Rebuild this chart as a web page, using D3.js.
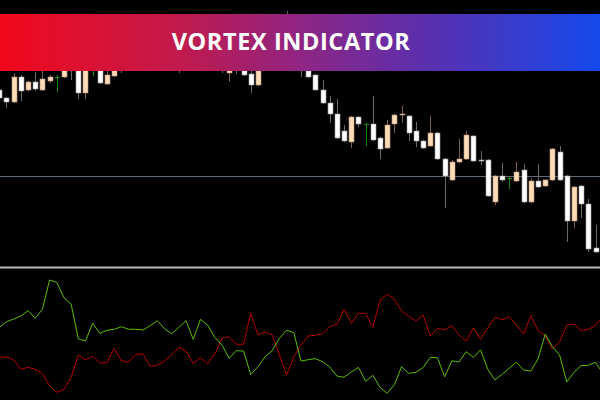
<!DOCTYPE html>
<html>
<head>
<meta charset="utf-8">
<script src="https://cdn.jsdelivr.net/npm/d3@7"></script>
<style>
  html, body { margin: 0; padding: 0; background: #000; }
  svg { display: block; }
</style>
</head>
<body>
<svg id="chart" width="600" height="400"></svg>
<script>
let title = "VORTEX INDICATOR";

// OHLC, one entry per bar
let opens = [1.0760,1.0752,1.0748,1.0773,1.0760,1.0768,1.0760,1.0769,1.0773,1.0773,
  1.0790,1.0785,1.0757,1.0784,1.0788,1.0766,1.0774,1.0795,1.0782,1.0798,
  1.0790,1.0806,1.0812,1.0795,1.0805,1.0794,1.0784,1.0804,1.0816,1.0804,
  1.0820,1.0806,1.0777,1.0790,1.0788,1.0776,1.0765,1.0786,1.0800,1.0792,
  1.0814,1.0828,1.0805,1.0790,1.0775,1.0760,1.0747,1.0736,1.0719,1.0708,
  1.0733,1.0726,1.0726,1.0712,1.0702,1.0726,1.0735,1.0734,1.0719,1.0709,
  1.0704,1.0717,1.0691,1.0670,1.0688,1.0691,1.0714,1.0690,1.0690,1.0648,
  1.0674,1.0672,1.0669,1.0680,1.0648,1.0669,1.0664,1.0670,1.0698,1.0674,
  1.0629,1.0664,1.0646,1.0602];
let highs = [1.0762,1.0753,1.0777,1.0775,1.0769,1.0778,1.0780,1.0775,1.0775,1.0784,
  1.0795,1.0790,1.0788,1.0790,1.0792,1.0780,1.0790,1.0800,1.0802,1.0805,
  1.0810,1.0815,1.0818,1.0810,1.0812,1.0800,1.0808,1.0820,1.0822,1.0825,
  1.0828,1.0814,1.0792,1.0798,1.0795,1.0780,1.0790,1.0805,1.0810,1.0820,
  1.0839,1.0832,1.0810,1.0795,1.0776,1.0770,1.0754,1.0751,1.0725,1.0734,
  1.0734,1.0727,1.0754,1.0713,1.0730,1.0736,1.0744,1.0735,1.0728,1.0710,
  1.0734,1.0718,1.0692,1.0690,1.0711,1.0719,1.0715,1.0699,1.0691,1.0675,
  1.0687,1.0673,1.0688,1.0686,1.0672,1.0686,1.0671,1.0702,1.0704,1.0675,
  1.0664,1.0665,1.0651,1.0625];
let lows = [1.0750,1.0742,1.0747,1.0749,1.0759,1.0759,1.0759,1.0767,1.0758,1.0772,
  1.0770,1.0751,1.0751,1.0774,1.0766,1.0765,1.0773,1.0777,1.0780,1.0784,
  1.0786,1.0800,1.0792,1.0788,1.0790,1.0777,1.0780,1.0798,1.0800,1.0798,
  1.0802,1.0777,1.0768,1.0776,1.0774,1.0757,1.0764,1.0782,1.0784,1.0788,
  1.0808,1.0800,1.0773,1.0772,1.0760,1.0746,1.0727,1.0711,1.0708,1.0702,
  1.0723,1.0704,1.0709,1.0691,1.0701,1.0717,1.0727,1.0709,1.0703,1.0701,
  1.0703,1.0690,1.0642,1.0669,1.0687,1.0690,1.0688,1.0685,1.0653,1.0645,
  1.0668,1.0661,1.0668,1.0647,1.0647,1.0662,1.0663,1.0669,1.0669,1.0608,
  1.0622,1.0632,1.0598,1.0597];
let closes = [1.0752,1.0748,1.0773,1.0759,1.0768,1.0761,1.0771,1.0773,1.0773,1.0782,
  1.0782,1.0757,1.0784,1.0784,1.0767,1.0775,1.0786,1.0780,1.0798,1.0790,
  1.0806,1.0812,1.0795,1.0805,1.0794,1.0784,1.0804,1.0816,1.0804,1.0820,
  1.0806,1.0782,1.0788,1.0780,1.0775,1.0765,1.0786,1.0800,1.0792,1.0814,
  1.0830,1.0805,1.0784,1.0773,1.0760,1.0747,1.0736,1.0712,1.0709,1.0733,
  1.0726,1.0726,1.0710,1.0701,1.0725,1.0735,1.0736,1.0717,1.0709,1.0702,
  1.0717,1.0691,1.0674,1.0688,1.0691,1.0715,1.0689,1.0689,1.0654,1.0674,
  1.0670,1.0672,1.0678,1.0648,1.0669,1.0663,1.0670,1.0701,1.0670,1.0629,
  1.0663,1.0646,1.0601,1.0598];

let priceLevel = 1.0674;

// vortex indicator
let viPlus = [1.118,1.155,1.173,1.193,1.229,1.178,1.238,1.433,1.418,1.315,
  1.273,1.040,1.027,1.145,1.078,1.098,1.105,1.122,1.105,1.105,
  1.100,1.129,1.162,1.109,1.075,1.118,1.162,1.038,1.171,1.133,
  1.051,1.000,0.911,0.962,0.960,0.802,0.855,0.922,0.962,1.045,
  1.098,1.082,0.893,0.902,0.909,0.889,0.853,0.793,0.785,0.820,
  0.851,0.758,0.798,0.718,0.678,0.735,0.855,0.811,0.818,0.849,
  0.918,0.915,0.787,0.895,0.887,0.955,0.918,0.967,0.838,0.767,
  0.805,0.845,0.885,0.833,0.827,0.907,1.073,0.989,0.933,0.753,
  0.818,0.862,0.865,0.885,0.813];
let viMinus = [0.915,0.922,0.900,0.838,0.851,0.838,0.811,0.727,0.685,0.705,
  0.785,0.935,0.900,0.925,0.880,0.882,0.978,0.895,0.885,0.938,
  0.940,0.858,0.865,0.893,0.935,0.985,0.960,0.878,0.915,0.875,
  0.938,1.045,1.055,1.005,1.005,1.211,1.067,1.087,1.067,0.933,
  0.800,0.922,1.000,1.060,1.065,1.073,1.122,1.138,1.238,1.145,
  1.211,1.211,1.118,1.298,1.338,1.305,1.227,1.193,1.160,1.200,
  1.060,1.111,1.102,1.129,1.067,1.025,1.115,1.038,1.115,1.185,
  1.169,1.189,1.131,1.073,1.195,1.098,1.062,0.973,1.022,1.133,
  1.140,1.098,1.105,1.129,1.189];

let width = 600, height = 400;
let svg = d3.select("#chart");

svg.append("rect")
    .attr("width", width)
    .attr("height", height)
    .style("fill", "#000");

let x = d3.scaleLinear()
    .domain([0, 83])
    .range([-0.7, 595.5]);

let y = d3.scaleLinear()
    .domain([1.0850, 1.0582])
    .range([0, 268]);

let yVi = d3.scaleLinear()
    .domain([0.6, 1.5])
    .range([405, 270]);

// price level line
svg.append("line")
    .attr("x1", 0)
    .attr("x2", width)
    .attr("y1", Math.round(y(priceLevel)) + 0.5)
    .attr("y2", Math.round(y(priceLevel)) + 0.5)
    .style("stroke", "#5f6b78")
    .style("stroke-width", "1px");

let candles = opens.map(function (o, i) {
    return { i: i, o: o, h: highs[i], l: lows[i], c: closes[i] };
});

function kind(d) {
    if (d.o === d.c) return "doji";
    return d.c > d.o ? "up" : "down";
}

let bodyW = 5;

let g = svg.append("g").attr("class", "candles");

g.selectAll("line.wick")
    .data(candles)
    .enter().append("line")
    .attr("class", "wick")
    .attr("x1", function (d) { return Math.round(x(d.i)) + 0.5; })
    .attr("x2", function (d) { return Math.round(x(d.i)) + 0.5; })
    .attr("y1", function (d) { return y(d.h); })
    .attr("y2", function (d) { return y(d.l); })
    .style("stroke", function (d) {
        let k = kind(d);
        if (k === "doji") return "#0a8a0a";
        return k === "up" ? "#7d5f52" : "#6a6a6a";
    })
    .style("stroke-width", "1px");

g.selectAll("rect.body")
    .data(candles.filter(function (d) { return kind(d) !== "doji"; }))
    .enter().append("rect")
    .attr("class", "body")
    .attr("x", function (d) { return Math.round(x(d.i)) - 2; })
    .attr("width", bodyW)
    .attr("y", function (d) { return y(Math.max(d.o, d.c)); })
    .attr("height", function (d) { return Math.max(1, Math.abs(y(d.o) - y(d.c))); })
    .style("fill", function (d) { return kind(d) === "up" ? "#fedcb8" : "#ffffff"; })
    .style("stroke", function (d) { return kind(d) === "up" ? "#b8927a" : "#9a9a9a"; })
    .style("stroke-width", "0.6px");

g.selectAll("line.doji")
    .data(candles.filter(function (d) { return kind(d) === "doji"; }))
    .enter().append("line")
    .attr("class", "doji")
    .attr("x1", function (d) { return Math.round(x(d.i)) - 2; })
    .attr("x2", function (d) { return Math.round(x(d.i)) + 3; })
    .attr("y1", function (d) { return Math.round(y(d.o)) + 0.5; })
    .attr("y2", function (d) { return Math.round(y(d.o)) + 0.5; })
    .style("stroke", "#0a8a0a")
    .style("stroke-width", "1px");

// separator between panes
svg.append("line")
    .attr("x1", 0)
    .attr("x2", width)
    .attr("y1", 267.5)
    .attr("y2", 267.5)
    .style("stroke", "#b9b9b9")
    .style("stroke-width", "2px");

// indicator pane
let line = d3.line()
    .x(function (d, i) { return x(i); })
    .y(function (d) { return yVi(d); });

svg.append("path")
    .datum(viMinus)
    .attr("d", line)
    .style("fill", "none")
    .style("stroke", "#b40000")
    .style("stroke-width", "1px");

svg.append("path")
    .datum(viPlus)
    .attr("d", line)
    .style("fill", "none")
    .style("stroke", "#5cbc00")
    .style("stroke-width", "1px");

// title banner
let defs = svg.append("defs");
let grad = defs.append("linearGradient")
    .attr("id", "banner-grad")
    .attr("x1", "0%").attr("x2", "100%")
    .attr("y1", "0%").attr("y2", "0%");

[["0%", "#f2091b"], ["30%", "#c11a4c"], ["52%", "#8a2688"],
 ["72%", "#5830b0"], ["100%", "#1449ec"]].forEach(function (s) {
    grad.append("stop").attr("offset", s[0]).attr("stop-color", s[1]);
});

svg.append("rect")
    .attr("x", 0)
    .attr("y", 14)
    .attr("width", width)
    .attr("height", 57)
    .style("fill", "url(#banner-grad)");

svg.append("text")
    .attr("x", 291)
    .attr("y", 50)
    .attr("text-anchor", "middle")
    .style("font-family", "'Open Sans', 'DejaVu Sans', sans-serif")
    .style("font-weight", "bold")
    .style("font-size", "23.5px")
    .style("letter-spacing", "0.6px")
    .style("fill", "#fff")
    .text(title);
</script>
</body>
</html>
